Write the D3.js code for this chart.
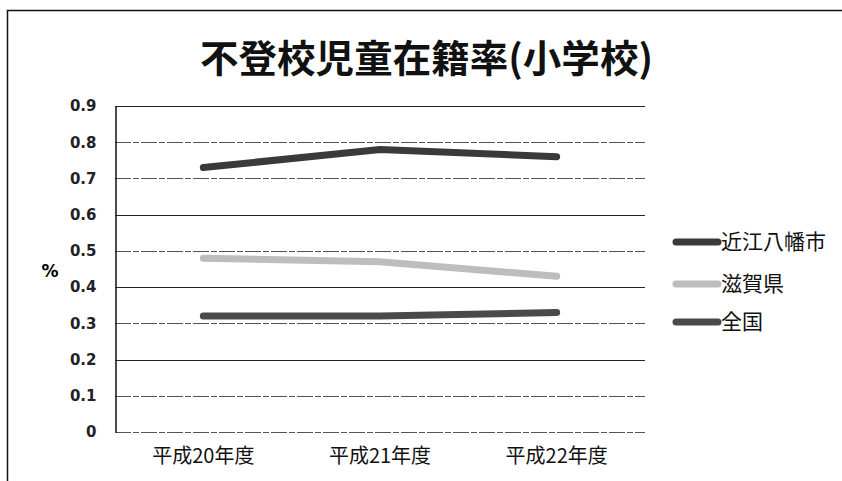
<!DOCTYPE html>
<html><head><meta charset="utf-8">
<script src="https://cdn.jsdelivr.net/npm/d3@7"></script>
<style>body{margin:0;background:#fff}svg{display:block}</style>
</head><body>
<script>
const categories = ["平成20年度", "平成21年度", "平成22年度"];
const seriesNames = ["近江八幡市", "滋賀県", "全国"];
const omihachiman = [0.73, 0.78, 0.76];
const shiga = [0.48, 0.47, 0.43];
const zenkoku = [0.32, 0.32, 0.33];
const yTicks = [0, 0.1, 0.2, 0.3, 0.4, 0.5, 0.6, 0.7, 0.8, 0.9];
const title = "不登校児童在籍率(小学校)";
const yLabel = "%";

const seriesValues = [omihachiman, shiga, zenkoku];
const colors = ["#3a3a3a", "#bdbdbd", "#4a4a4a"];

const W = 842, H = 481;
const svg = d3.select("body").append("svg").attr("width", W).attr("height", H);
const font = "'Noto Sans CJK JP', sans-serif";

// frame
svg.append("path").attr("d", `M7.5,${H} V10.5 H${W}`).attr("fill","none").attr("stroke","#111").attr("stroke-width",1.5);

const x = d3.scaleBand().domain(categories).range([115, 645]);
const y = d3.scaleLinear().domain([0, 0.9]).range([432, 106]);

// gridlines
const solid = new Set([0.9, 0.6, 0.4, 0.2]);
svg.append("g").selectAll("line").data(yTicks).join("line")
  .attr("x1", 115).attr("x2", 645)
  .attr("y1", d => Math.round(y(d)) + 0.5).attr("y2", d => Math.round(y(d)) + 0.5)
  .attr("stroke", d => solid.has(d) ? "#222" : "#555")
  .attr("stroke-width", 1.2)
  .attr("stroke-dasharray", d => solid.has(d) ? null : "16,2,6,2");

// y axis
const yAxis = d3.axisLeft(y).tickValues(yTicks).tickSize(0).tickPadding(19)
  .tickFormat(d => d === 0 ? "0" : d3.format(".1f")(d));
const ga = svg.append("g").attr("transform", "translate(115.5,0)").call(yAxis);
ga.select(".domain").attr("stroke", "#111").attr("stroke-width", 1.5);
ga.selectAll("text").attr("font-family", "'DejaVu Sans', sans-serif").attr("font-size", 15)
  .attr("font-weight", "bold").attr("fill", "#222");

// x axis labels
const xAxis = d3.axisBottom(x).tickSize(0).tickPadding(17);
const gx = svg.append("g").attr("transform", "translate(0,432)").call(xAxis);
gx.select(".domain").remove();
gx.selectAll("text").attr("font-family", font).attr("font-size", 20).attr("fill", "#111");

// y label
svg.append("text").attr("x", 50).attr("y", 277).attr("text-anchor", "middle")
  .attr("font-family", "'DejaVu Sans', sans-serif").attr("font-size", 17).attr("font-weight","bold").text(yLabel);

// title
svg.append("text").attr("x", 200).attr("y", 72).attr("textLength", 453).attr("lengthAdjust","spacingAndGlyphs")
  .attr("font-family", font).attr("font-weight", "bold").attr("font-size", 38).attr("fill", "#111").text(title);

// lines
const line = d3.line().x((d, i) => x(categories[i]) + x.bandwidth() / 2).y(d => y(d));
svg.append("g").selectAll("path").data(seriesValues).join("path")
  .attr("d", d => line(d)).attr("fill", "none")
  .attr("stroke", (d, i) => colors[i]).attr("stroke-width", 7).attr("stroke-linecap", "round");

// legend
const legY = [242, 284, 322];
const lg = svg.append("g").selectAll("g").data(seriesNames).join("g")
  .attr("transform", (d, i) => `translate(0,${legY[i]})`);
lg.append("line").attr("x1", 676).attr("x2", 718).attr("y1", 0).attr("y2", 0)
  .attr("stroke", (d, i) => colors[i]).attr("stroke-width", 7).attr("stroke-linecap", "round");
lg.append("text").attr("x", 721).attr("y", 7).attr("font-family", font).attr("font-size", 21)
  .attr("fill", "#111").text(d => d);
</script>
</body></html>
